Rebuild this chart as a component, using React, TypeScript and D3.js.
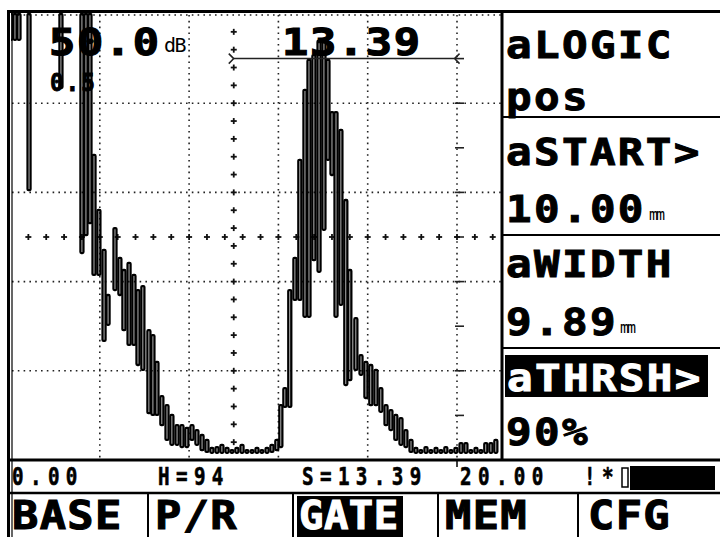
import React from "react";
import * as d3 from "d3";

// A-scan envelope columns: position (mm), min amplitude (%), max amplitude (%)
const echoPos = [
  0.02, 0.2, 0.38, 0.83, 2.26, 3.2, 3.38, 3.56, 3.74, 3.96, 4.19, 4.37, 4.68, 4.9, 5.08, 5.31, 5.53, 5.71, 5.93,
  6.2, 6.38, 6.56, 6.78, 7.01, 7.23, 7.46, 7.68, 7.9, 8.13, 8.35, 8.58, 8.8,
  9.02, 9.25, 9.47, 9.7, 9.92, 10.14, 10.37, 10.59, 10.82, 11.04, 11.26, 11.49,
  11.71, 11.93, 12.11, 12.29, 12.51, 12.74, 12.96, 13.19, 13.37, 13.59, 13.82, 14.04, 14.22, 14.4, 14.58, 14.8,
  15.02, 15.2, 15.47, 15.7, 15.92, 16.14, 16.37, 16.59, 16.82, 17.04, 17.26, 17.49, 17.71, 17.94,
  18.16, 18.38, 18.61, 18.83, 19.06, 19.28, 19.5, 19.73, 19.95, 20.18, 20.4, 20.62, 20.85, 21.07, 21.29, 21.52, 21.74,
];
const echoLow = [
  94.2, 94.2, 94.2, 60.5, 83.4, 46.4, 50.4, 53.1, 41.5, 41.5, 26.7, 30.3, 38.1, 37.0, 29.1, 25.8, 25.8, 21.3, 20.2,
  10.5, 10.1, 10.1, 7.8, 4.5, 3.4, 3.4, 2.9, 2.9, 4.5, 3.4, 2.2, 1.8,
  1.6, 1.6, 1.6, 1.6, 1.6, 1.6, 1.6, 1.6, 1.6, 1.6, 1.6, 1.6,
  1.8, 2.2, 2.9, 11.9, 11.9, 35.9, 35.9, 32.1, 32.1, 44.8, 42.2, 51.6, 67.3, 63.9, 32.1, 34.8,
  16.8, 17.9, 20.2, 19.1, 13.9, 12.3, 12.3, 10.8, 7.8, 6.7, 4.5, 3.4, 2.9, 1.8,
  1.6, 1.6, 1.6, 1.6, 1.6, 1.6, 1.6, 1.6, 1.6, 1.6, 1.6, 1.6, 1.6, 1.6, 1.6, 1.6, 1.6,
];
const echoHigh = [
  100, 100, 100, 100, 100, 100, 100, 100, 68.4, 56.1, 47.1, 37.0, 52.0, 45.3, 42.6, 44.2, 41.5, 38.1, 39.0,
  29.1, 28.0, 22.0, 14.3, 12.3, 10.1, 7.8, 7.8, 7.2, 7.8, 6.7, 5.6, 4.5,
  2.7, 2.9, 3.4, 2.7, 2.2, 2.7, 3.4, 2.2, 2.2, 2.7, 2.2, 2.7,
  3.4, 4.5, 12.3, 16.1, 38.1, 45.3, 67.3, 83.0, 89.7, 90.8, 94.0, 93.7, 89.7, 78.0, 78.0, 74.0,
  58.3, 42.6, 31.8, 23.5, 22.0, 21.3, 20.2, 16.1, 12.3, 11.2, 10.1, 9.4, 6.7, 4.5,
  2.7, 2.2, 2.9, 2.2, 2.7, 2.2, 2.9, 2.2, 2.7, 3.8, 3.8, 2.2, 2.7, 2.2, 3.8, 3.8, 4.5,
];

const gridMm = [4, 8, 12, 16, 20];
const gridAmp = [20, 40, 60, 80];
const tickAmp = [10, 20, 30, 40, 50, 60, 70, 80, 90];
const gateStart = 10.0;
const gateWidth = 9.89;
const gateLevel = 90;
const rangeStart = "0.00";
const rangeEnd = "20.00";

const gainLabel = "50.0";
const gainUnit = "dB";
const stepLabel = "0.5";
const soundPathLabel = "13.39";

const sideLabels = ["aLOGIC", "pos", "aSTART>", "10.00", "aWIDTH", "9.89", "aTHRSH>", "90%"];
const menuLabels = ["BASE", "P/R", "GATE", "MEM", "CFG"];
const statusH = "H=94";
const statusS = "S=13.39";

const MONO = "'DejaVu Sans Mono', 'Liberation Mono', monospace";

function T(props: {
  x: number; y: number; size: number; sx?: number; ls?: number; fill?: string; heavy?: number; children: any;
}) {
  const { x, y, size, sx = 1, ls = 0, fill = "#000", heavy = 0, children } = props;
  return (
    <text
      transform={`translate(${x},${y}) scale(${sx},1)`}
      fontSize={size}
      letterSpacing={ls}
      fontFamily={MONO}
      fontWeight={700}
      fill={fill}
      stroke={heavy ? fill : "none"}
      strokeWidth={heavy}
    >
      {children}
    </text>
  );
}

export default function App() {
  const x = d3.scaleLinear().domain([0, 20]).range([10.5, 457]);
  const y = d3.scaleLinear().domain([0, 100]).range([460, 14]);
  const plotL = 10, plotR = 502, plotT = 13, plotB = 460;

  const vCross = d3.range(1, 25).map((k) => k * 4);
  const hCross = d3.range(1, 28).map((k) => k * 0.8);

  const bars = echoPos.map((p, i) => ({ p, lo: echoLow[i], hi: echoHigh[i] }));
  const barW = 3;

  const gx0 = x(gateStart);
  const gx1 = x(gateStart + gateWidth);
  const gy = y(gateLevel);

  return (
    <svg
      width={720}
      height={537}
      viewBox="0 0 720 537"
      style={{ position: "fixed", left: 0, top: 0, background: "#fff" }}
    >
      <rect x={0} y={0} width={720} height={537} fill="#fff" />
      <defs>
        <clipPath id="plotclip">
          <rect x={plotL + 1} y={plotT} width={plotR - plotL - 2} height={plotB - plotT} />
        </clipPath>
      </defs>

      {/* grid */}
      <g stroke="#222" strokeWidth={1.6} strokeDasharray="1.6 4.2">
        {gridMm.map((m) => (
          <line key={"v" + m} x1={x(m)} x2={x(m)} y1={plotT + 2} y2={plotB} />
        ))}
        {gridAmp.map((a) => (
          <line key={"h" + a} x1={plotL + 2} x2={plotR} y1={y(a)} y2={y(a)} />
        ))}
        <line x1={plotL + 2} x2={plotR} y1={plotT + 2} y2={plotT + 2} />
      </g>
      <g stroke="#222" strokeWidth={1.6}>
        {tickAmp.map((a) => (
          <line key={"t" + a} x1={x(20) - 2} x2={x(20) + 7} y1={y(a)} y2={y(a)} />
        ))}
      </g>
      {/* center crosses */}
      <g stroke="#111" strokeWidth={1.8}>
        {vCross.map((a) => (
          <g key={"vc" + a}>
            <line x1={x(gateStart) - 3} x2={x(gateStart) + 3} y1={y(a)} y2={y(a)} />
            <line x1={x(gateStart)} x2={x(gateStart)} y1={y(a) - 3} y2={y(a) + 3} />
          </g>
        ))}
        {hCross.map((m) => (
          <g key={"hc" + m}>
            <line x1={x(m) - 3} x2={x(m) + 3} y1={y(50)} y2={y(50)} />
            <line x1={x(m)} x2={x(m)} y1={y(50) - 3} y2={y(50) + 3} />
          </g>
        ))}
      </g>

      {/* waveform */}
      <g clipPath="url(#plotclip)" fill="none" stroke="#000" strokeWidth={2.3}>
        {bars.map((b, i) => (
          <rect
            key={i}
            x={x(b.p) - barW / 2}
            y={y(b.hi)}
            width={barW}
            height={Math.max(y(b.lo) - y(b.hi), 1)}
            rx={1}
          />
        ))}
      </g>

      {/* gate */}
      <g stroke="#222" strokeWidth={1.5} fill="none">
        <line x1={gx0} x2={gx1} y1={gy} y2={gy} />
        <path d={`M${gx0 - 5},${gy - 5} L${gx0},${gy} L${gx0 - 5},${gy + 5}`} />
        <path d={`M${gx1 + 5},${gy - 5} L${gx1},${gy} L${gx1 + 5},${gy + 5}`} />
      </g>

      {/* gain & readings */}
      <T x={49} y={55} size={38} sx={1.15} ls={1.4} heavy={1.2}>{gainLabel}</T>
      <text x={164} y={52} fontSize={20} fontFamily={MONO} fill="#000" letterSpacing={-1.5}>{gainUnit}</text>
      <T x={50} y={91} size={24} sx={0.95} ls={2} heavy={0.8}>{stepLabel}</T>
      <T x={282} y={55} size={38} sx={1.15} ls={1.4} heavy={1.2}>{soundPathLabel}</T>

      {/* frame */}
      <g stroke="#000" fill="none">
        <line x1={7} x2={720} y1={11.5} y2={11.5} strokeWidth={3} />
        <line x1={8.5} x2={8.5} y1={10} y2={537} strokeWidth={3} />
        <line x1={12} x2={12} y1={10} y2={537} strokeWidth={1.2} />
        <line x1={502} x2={502} y1={10} y2={460} strokeWidth={3} />
        <line x1={502} x2={720} y1={117} y2={117} strokeWidth={2} />
        <line x1={502} x2={720} y1={235} y2={235} strokeWidth={2} />
        <line x1={502} x2={720} y1={348} y2={348} strokeWidth={2} />
        <line x1={7} x2={720} y1={460} y2={460} strokeWidth={3} />
        <line x1={7} x2={720} y1={493} y2={493} strokeWidth={2.5} />
        {[148, 293, 438, 578].map((sx) => (
          <line key={sx} x1={sx} x2={sx} y1={493} y2={537} strokeWidth={2} />
        ))}
        <line x1={x(20)} x2={x(20)} y1={460} y2={467} strokeWidth={1.5} />
      </g>

      {/* right panel */}
      <T x={506} y={58} size={38} sx={1.12} ls={2.1} heavy={1}>{sideLabels[0]}</T>
      <T x={506} y={110} size={38} sx={1.12} ls={2.1} heavy={1}>{sideLabels[1]}</T>
      <T x={506} y={165} size={38} sx={1.12} ls={2.1} heavy={1}>{sideLabels[2]}</T>
      <T x={506} y={222} size={38} sx={1.12} ls={2.1} heavy={1}>{sideLabels[3]}</T>
      <T x={506} y={277} size={38} sx={1.12} ls={2.1} heavy={1}>{sideLabels[4]}</T>
      <T x={506} y={335} size={38} sx={1.12} ls={2.1} heavy={1}>{sideLabels[5]}</T>
      <rect x={505} y={355} width={203} height={42} fill="#000" />
      <T x={507} y={391} size={38} sx={1.12} ls={2.1} heavy={1} fill="#fff">{sideLabels[6]}</T>
      <T x={506} y={445} size={38} sx={1.12} ls={2.1} heavy={1}>{sideLabels[7]}</T>
      <text x={649} y={220} fontSize={15} fontFamily={MONO} fill="#000" letterSpacing={-2}>mm</text>
      <text x={620} y={333} fontSize={15} fontFamily={MONO} fill="#000" letterSpacing={-2}>mm</text>

      {/* status bar */}
      <T x={12} y={485} size={24} sx={0.8} ls={8} heavy={0.6}>{rangeStart}</T>
      <T x={158} y={485} size={24} sx={0.8} ls={8} heavy={0.6}>{statusH}</T>
      <T x={302} y={485} size={24} sx={0.8} ls={8} heavy={0.6}>{statusS}</T>
      <T x={460} y={485} size={24} sx={0.8} ls={8} heavy={0.6}>{rangeEnd}</T>
      <T x={584} y={485} size={24} sx={0.8} ls={8} heavy={0.6}>!*</T>
      <rect x={622} y={468} width={6} height={19} fill="none" stroke="#000" strokeWidth={1.5} />
      <rect x={630} y={466} width={85} height={24} fill="#000" />

      {/* menu */}
      <rect x={297} y={496} width={106} height={41} fill="#000" />
      <T x={12} y={529} size={39} sx={1.12} ls={1.2} heavy={1.1}>{menuLabels[0]}</T>
      <T x={155} y={529} size={39} sx={1.12} ls={1.2} heavy={1.1}>{menuLabels[1]}</T>
      <T x={299} y={529} size={39} sx={1.04} ls={0.5} heavy={1.1} fill="#fff">{menuLabels[2]}</T>
      <T x={445} y={529} size={39} sx={1.12} ls={1.2} heavy={1.1}>{menuLabels[3]}</T>
      <T x={588} y={529} size={39} sx={1.12} ls={1.2} heavy={1.1}>{menuLabels[4]}</T>
    </svg>
  );
}
